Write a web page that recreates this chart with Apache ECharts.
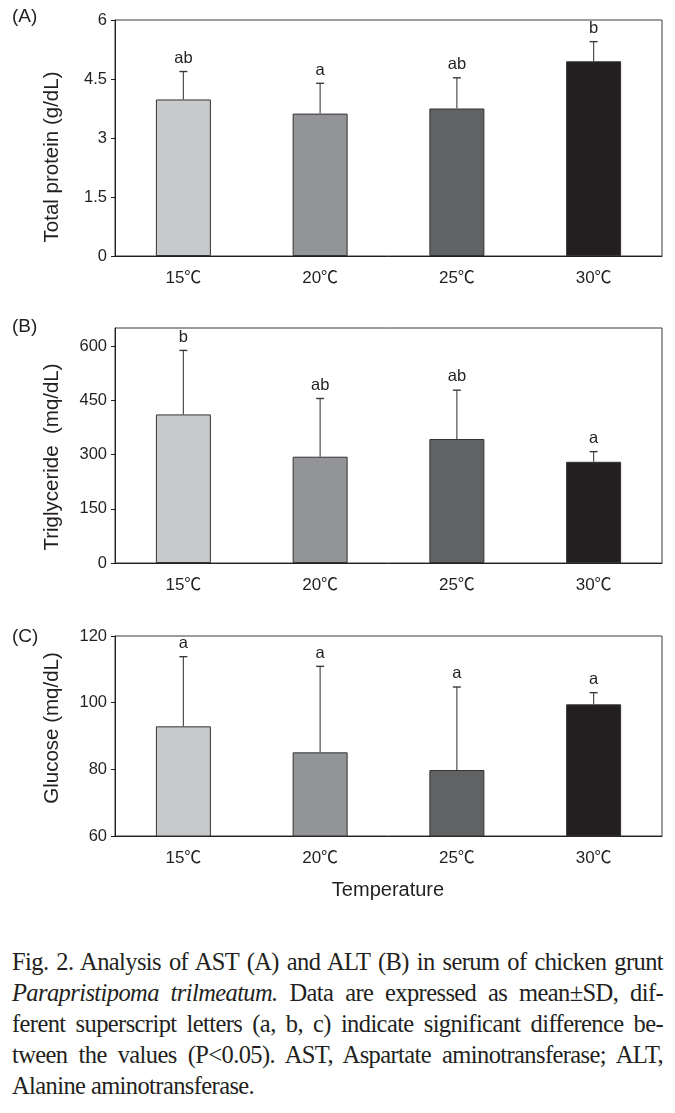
<!DOCTYPE html>
<html>
<head>
<meta charset="utf-8">
<script src="https://cdn.jsdelivr.net/npm/echarts@6/dist/echarts.min.js"></script>
<style>
  html, body { margin: 0; padding: 0; background: #fff; }
  #wrap { position: relative; width: 675px; height: 1113px; }
  #chart { position: absolute; left: 0; top: 0; width: 675px; height: 920px; }
  #caption { position: absolute; left: 12px; top: 946px; width: 651px;
    font-family: 'Liberation Serif', 'DejaVu Serif', serif; font-size: 24.5px; line-height: 31px;
    letter-spacing: -0.6px; color: #231f20; }
  #caption div { text-align: justify; text-align-last: justify; white-space: nowrap; }
  #caption div.last { text-align-last: left; }
</style>
</head>
<body>
<div id="wrap">
  <div id="chart"></div>
  <div id="caption">
    <div>Fig. 2. Analysis of AST (A) and ALT (B) in serum of chicken grunt</div>
    <div><i>Parapristipoma trilmeatum.</i> Data are expressed as mean±SD, dif-</div>
    <div>ferent superscript letters (a, b, c) indicate significant difference be-</div>
    <div>tween the values (P&lt;0.05). AST, Aspartate aminotransferase; ALT,</div>
    <div class="last">Alanine aminotransferase.</div>
  </div>
</div>
<script>
// ---- data ----
const categories = ['15℃', '20℃', '25℃', '30℃'];
const barColors = ['#c8c9cb', '#939497', '#616264', '#231f20'];

const proteinMean = [3.98, 3.62, 3.75, 4.95];
const proteinSD = [0.71, 0.77, 0.78, 0.50];
const proteinLetters = ['ab', 'a', 'ab', 'b'];
const proteinTicks = [0, 1.5, 3, 4.5, 6];

const tgMean = [411, 294, 343, 280];
const tgSD = [177, 161, 135, 28];
const tgLetters = ['b', 'ab', 'ab', 'a'];
const tgTicks = [0, 150, 300, 450, 600];

const glucoseMean = [92.9, 85.1, 79.8, 99.5];
const glucoseSD = [20.9, 25.8, 24.9, 3.5];
const glucoseLetters = ['a', 'a', 'a', 'a'];
const glucoseTicks = [60, 80, 100, 120];

// ---- styling ----
const SANS = "'Liberation Sans', Arial, 'Noto Sans CJK SC', sans-serif";
const TXT = '#231f20';

const panels = [
  { mean: proteinMean, sd: proteinSD, letters: proteinLetters, ticks: proteinTicks, min: 0, max: 6, interval: 1.5,
    top: 20, height: 236, title: 'Total protein (g/dL)', titleY: 157, tag: '(A)', tagY: 17 },
  { mean: tgMean, sd: tgSD, letters: tgLetters, ticks: tgTicks, min: 0, max: 650, interval: 150,
    top: 328, height: 235, title: 'Triglyceride  (mq/dL)', titleY: 457, tag: '(B)', tagY: 327 },
  { mean: glucoseMean, sd: glucoseSD, letters: glucoseLetters, ticks: glucoseTicks, min: 60, max: 120, interval: 20,
    top: 636, height: 200, title: 'Glucose (mq/dL)', titleY: 728, tag: '(C)', tagY: 637 }
];

const grid = [], xAxis = [], yAxis = [], series = [], graphic = [];

panels.forEach((p, k) => {
  grid.push({ left: 115, right: 13, top: p.top, height: p.height, show: true,
    borderColor: '#3a3a3a', borderWidth: 1, backgroundColor: 'transparent' });
  xAxis.push({ type: 'category', gridIndex: k, data: categories,
    axisLine: { lineStyle: { color: '#231f20', width: 1 } },
    axisTick: { inside: true, length: 4, lineStyle: { color: '#231f20' } },
    axisLabel: { margin: 14, fontSize: 17, fontFamily: SANS, color: TXT } });
  yAxis.push({ type: 'value', gridIndex: k, min: p.min, max: p.max, interval: p.interval,
    splitLine: { show: false },
    axisLine: { show: true, lineStyle: { color: '#231f20', width: 1 } },
    axisTick: { show: true, length: 4, customValues: p.ticks, lineStyle: { color: '#231f20' } },
    axisLabel: { margin: 8, fontSize: 16.5, fontFamily: SANS, color: TXT, customValues: p.ticks } });
  series.push({ type: 'bar', xAxisIndex: k, yAxisIndex: k, barWidth: 55, z: 2,
    data: p.mean.map((v, i) => ({ value: v, itemStyle: { color: barColors[i] } })),
    itemStyle: { borderColor: '#333', borderWidth: 1 } });
  const letters = p.letters;
  series.push({ type: 'custom', xAxisIndex: k, yAxisIndex: k, z: 3,
    encode: { x: 0, y: [1, 2] },
    data: p.mean.map((v, i) => [i, v, v + p.sd[i]]),
    renderItem: function (params, api) {
      const x = api.value(0);
      const p0 = api.coord([x, api.value(1)]);
      const p1 = api.coord([x, api.value(2)]);
      const cap = 4;
      return { type: 'group', children: [
        { type: 'line', shape: { x1: p0[0], y1: p0[1], x2: p1[0], y2: p1[1] },
          style: { stroke: '#4d4d4d', lineWidth: 1.2 } },
        { type: 'line', shape: { x1: p1[0] - cap, y1: p1[1], x2: p1[0] + cap, y2: p1[1] },
          style: { stroke: '#3a3a3a', lineWidth: 1.4 } },
        { type: 'text', style: { text: letters[params.dataIndex], x: p1[0], y: p1[1] - 5,
          align: 'center', verticalAlign: 'bottom', fontSize: 16.5, fontFamily: SANS, fill: TXT } }
      ] };
    } });
  graphic.push({ type: 'text', x: 12, y: p.tagY,
    style: { text: p.tag, fontSize: 19, fontFamily: SANS, fill: TXT, align: 'left', verticalAlign: 'middle' } });
  graphic.push({ type: 'text', x: 52, y: p.titleY, rotation: Math.PI / 2,
    style: { text: p.title, fontSize: 20.5, fontFamily: SANS, fill: TXT, align: 'center', verticalAlign: 'middle' } });
});

graphic.push({ type: 'text', x: 388, y: 890,
  style: { text: 'Temperature', fontSize: 20, fontFamily: SANS, fill: TXT, align: 'center', verticalAlign: 'middle' } });

const chart = echarts.init(document.getElementById('chart'), null, { renderer: 'canvas' });
chart.setOption({
  backgroundColor: '#ffffff',
  animation: false,
  grid, xAxis, yAxis, series, graphic
});
</script>
</body>
</html>
